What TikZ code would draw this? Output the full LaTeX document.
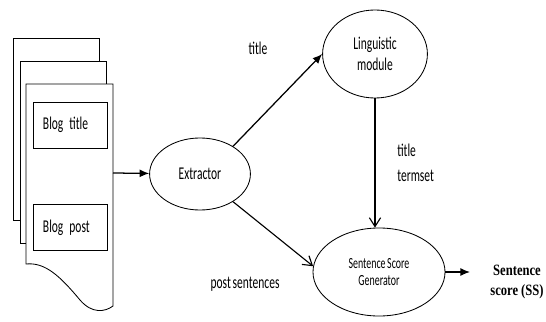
\documentclass[tikz,border=0pt]{standalone}
\usepackage{fontspec}
\newfontfamily\diagfont[FakeStretch=0.64, WordSpace=0.7]{Carlito}
\newfontfamily\outfont[FakeStretch=0.8]{Liberation Serif}
\usetikzlibrary{arrows.meta,positioning,shapes.geometric}

\begin{document}
\begin{tikzpicture}[
		x=0.025cm, y=-0.025cm,
		module/.style={draw, ellipse, inner sep=0pt, align=center, line width=0.6pt, font=\diagfont\fontsize{12.8}{14.5}\selectfont},
		field/.style={draw, line width=0.6pt, minimum width=1.85cm, minimum height=1.15cm, inner xsep=0.25cm, text width=1.35cm, align=left, font=\diagfont\fontsize{12.8}{14.5}\selectfont},
		lbl/.style={inner sep=0pt, align=left, font=\diagfont\fontsize{12.8}{14.5}\selectfont},
		page/.style={draw, fill=white, line width=0.6pt},
		arr/.style={-{Latex[length=2.4mm, width=2mm]}, line width=0.9pt},
		barb/.style={-{Straight Barb[length=2.2mm, width=2.8mm]}, line width=0.8pt}
		]
		\useasboundingbox (0,0) rectangle (546,322);
		
		% stack of blog pages
		\draw[page] (13,38) rectangle (99,220);
		\draw[page] (20,61) rectangle (106,243);
		\draw[page] (26,264) -- (26,84) -- (113,84) -- (113,306)
			.. controls (105,312) and (92,314) .. (80,300)
			.. controls (60,276) and (45,262) .. (26,264) -- cycle;
		
		\node[field] (btitle) at (70,125) {Blog title};
		\node[field] (bpost) at (70,227.5) {Blog post};
		\coordinate (docout) at (113,173);
		
		\node[module, minimum width=2.52cm, minimum height=1.8cm] (ext) at (200,174) {Extractor};
		\node[module, minimum width=2.62cm, minimum height=2.2cm] (ling) at (375,54) {Linguistic\\module};
		\node[module, minimum width=3.3cm, minimum height=2.2cm, font=\diagfont\fontsize{11}{12.5}\selectfont] (ssg) at (379,272) {Sentence Score\\Generator};
		
		\node[inner sep=0pt, align=center, font=\outfont\bfseries\fontsize{11.2}{14}\selectfont] (score) at (517,282) {Sentence\\score (SS)};
		\coordinate (ssout) at (470,272);
		
		\node[lbl] (ltitle) at (258,48) {title};
		\node[lbl, anchor=west] (ltitle2) at (397,150) {title};
		\node[lbl, anchor=west] (ltermset) at (397,176) {termset};
		\node[lbl] (lpost) at (245,284) {post sentences};
		
		\draw[arr] (docout) -- (ext);
		\draw[arr] (ext.40) -- (ling.west);
		\draw[barb] (ext.-40) -- (ssg.175);
		\draw[barb] (ling.south) -- (ling.south |- ssg.north);
		\draw[arr] (ssg.east) -- (ssout);
		
\end{tikzpicture}
\end{document}
